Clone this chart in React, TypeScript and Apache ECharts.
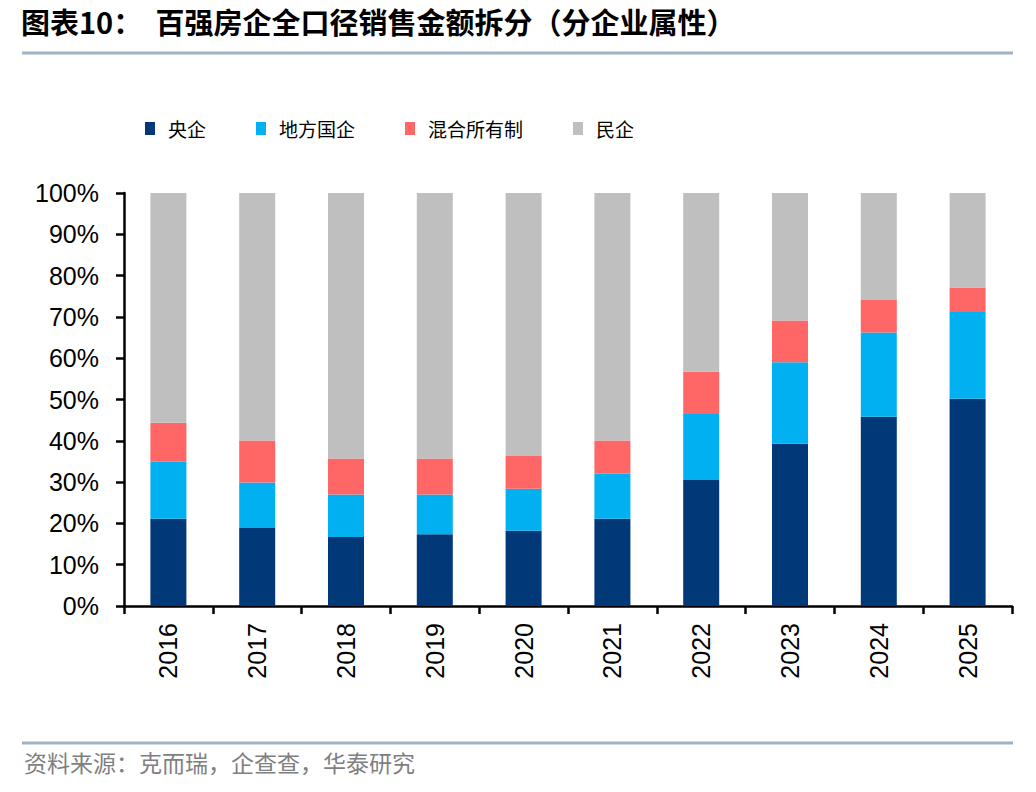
import React, { useEffect, useRef } from "react";
import * as echarts from "echarts";

const years = ["2016", "2017", "2018", "2019", "2020", "2021", "2022", "2023", "2024", "2025"];
const centralSOE = [21.1, 18.9, 16.7, 17.4, 18.2, 21.1, 30.5, 39.3, 45.8, 50.2];
const localSOE = [13.8, 11.0, 10.3, 9.6, 10.2, 10.9, 16.0, 19.7, 20.4, 21.0];
const mixedOwnership = [9.5, 10.2, 8.7, 8.7, 7.9, 8.1, 10.2, 10.1, 7.9, 5.9];
const privateFirms = [55.6, 59.9, 64.3, 64.3, 63.7, 59.9, 43.3, 30.9, 25.9, 22.9];
const yTicks = [0, 10, 20, 30, 40, 50, 60, 70, 80, 90, 100];

const seriesNames = ["央企", "地方国企", "混合所有制", "民企"];
const seriesColors = ["#003878", "#00B0F0", "#FF6666", "#BFBFBF"];

export default function App() {
  const ref = useRef<HTMLDivElement>(null);
  useEffect(() => {
    if (!ref.current) return;
    const chart = echarts.init(ref.current, null, { renderer: "svg" });
    const datasets = [centralSOE, localSOE, mixedOwnership, privateFirms];
    chart.setOption({
      animation: false,
      backgroundColor: "#ffffff",
      textStyle: { fontFamily: "Arial, 'Liberation Sans', 'Noto Sans CJK SC', sans-serif" },
      graphic: [
        {
          type: "text",
          left: 21,
          top: 6,
          style: {
            text: "图表10：  百强房企全口径销售金额拆分（分企业属性）",
            fontSize: 29,
            fontWeight: "bold",
            fill: "#000000",
            fontFamily: "'Noto Sans CJK SC', sans-serif",
          },
        },
        {
          type: "rect",
          shape: { x: 22, y: 51.5, width: 991, height: 3 },
          style: { fill: "#9FB3C8" },
        },
        {
          type: "rect",
          shape: { x: 22, y: 741.5, width: 991, height: 3 },
          style: { fill: "#9FB3C8" },
        },
        {
          type: "text",
          left: 24,
          top: 750,
          style: {
            text: "资料来源：克而瑞，企查查，华泰研究",
            fontSize: 23,
            fill: "#7F7F7F",
            fontFamily: "'Noto Sans CJK SC', sans-serif",
          },
        },
      ],
      legend: {
        left: 140,
        top: 114,
        itemWidth: 10,
        itemHeight: 13,
        itemGap: 50,
        icon: "rect",
        textStyle: {
          fontSize: 19,
          color: "#000000",
          padding: [0, 0, 0, 8],
          fontFamily: "'Noto Sans CJK SC', sans-serif",
        },
        data: seriesNames,
      },
      grid: { left: 124, right: 24, top: 193, bottom: 186, containLabel: false },
      xAxis: {
        type: "category",
        data: years,
        boundaryGap: true,
        axisLine: { show: true, lineStyle: { color: "#000000", width: 2.5 } },
        axisTick: { show: true, length: 8, alignWithLabel: false, lineStyle: { color: "#000000", width: 2.5 } },
        axisLabel: {
          rotate: 90,
          margin: 17,
          fontSize: 25,
          color: "#000000",
          fontFamily: "Arial, 'Liberation Sans', sans-serif",
        },
      },
      yAxis: {
        type: "value",
        min: 0,
        max: 100,
        interval: 10,
        splitLine: { show: false },
        axisLine: { show: true, lineStyle: { color: "#000000", width: 2.5 } },
        axisTick: { show: true, length: 8, inside: false, lineStyle: { color: "#000000", width: 2.5 } },
        axisLabel: {
          fontSize: 25,
          color: "#000000",
          margin: 25,
          fontFamily: "Arial, 'Liberation Sans', sans-serif",
          formatter: (v: number) => (yTicks.includes(v) ? `${v}%` : ""),
        },
      },
      series: seriesNames.map((name, i) => ({
        name,
        type: "bar",
        stack: "total",
        barWidth: 36,
        data: datasets[i],
        itemStyle: { color: seriesColors[i] },
      })),
    });
    return () => chart.dispose();
  }, []);
  return (
    <div
      ref={ref}
      style={{ position: "fixed", left: 0, top: 0, width: 1036, height: 792 }}
    />
  );
}
